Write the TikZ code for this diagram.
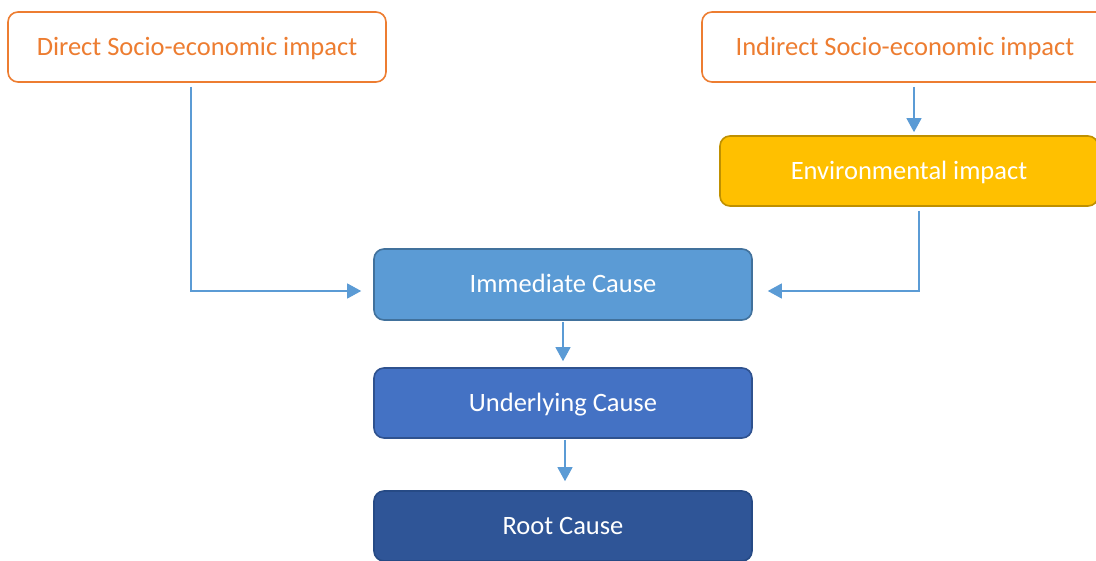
\documentclass[tikz,border=0pt]{standalone}
\usepackage{fontspec}
\setmainfont{Carlito}
\usetikzlibrary{arrows.meta,calc}

\definecolor{orangeline}{HTML}{ED7D31}
\definecolor{linkblue}{HTML}{5B9BD5}
\definecolor{goldfill}{HTML}{FFC000}
\definecolor{golddraw}{HTML}{BF9000}
\definecolor{immfill}{HTML}{5B9BD5}
\definecolor{immdraw}{HTML}{41719C}
\definecolor{undfill}{HTML}{4472C4}
\definecolor{unddraw}{HTML}{2F528F}
\definecolor{rootfill}{HTML}{2F5597}
\definecolor{rootdraw}{HTML}{264A85}

\tikzset{
  box/.style={rectangle, rounded corners=10pt, line width=1.6pt,
    minimum height=70pt, inner sep=0pt, text height=17pt, text depth=0pt,
    font=\fontsize{26.5}{30}\selectfont},
  impactbox/.style={box, draw=orangeline, fill=white, text=orangeline},
  envbox/.style={box, draw=golddraw, fill=goldfill, text=white},
  causebox/.style={box, text=white, minimum width=378pt},
  conn/.style={draw=linkblue, line width=1.2pt,
    -{Triangle[length=14pt,width=15pt]}}
}

\begin{document}
\begin{tikzpicture}[x=1pt,y=-1pt]
  \useasboundingbox (0,0) rectangle (1096,561);
  \clip (0,0) rectangle (1096,561);

  % impact boxes
  \node[impactbox, minimum width=378pt] (direct) at (197,47) {Direct Socio-economic impact};
  \node[impactbox, minimum width=406pt] (indirect) at (905,47) {Indirect Socio-economic impact};
  \node[envbox, minimum width=378pt] (env) at (909,171) {Environmental impact};

  % cause chain
  \node[causebox, fill=immfill, draw=immdraw, minimum height=71pt] (imm) at (563,284.5) {Immediate Cause};
  \node[causebox, fill=undfill, draw=unddraw] (und) at (563,403) {Underlying Cause};
  \node[causebox, fill=rootfill, draw=rootdraw] (root) at (563,526) {Root Cause};

  % connector end points
  \coordinate (dstart) at ($(direct.south)+(-6,4)$);
  \coordinate (dend) at ($(imm.west)+(-12,6.5)$);
  \coordinate (istart) at ($(indirect.south)+(9,4)$);
  \coordinate (iend) at ($(env.north)+(5,-3)$);
  \coordinate (estart) at ($(env.south)+(10,4)$);
  \coordinate (eend) at ($(imm.east)+(15,6.5)$);
  \coordinate (ustart) at ($(imm.south)+(0,1)$);
  \coordinate (uend) at ($(und.north)+(0,-6)$);
  \coordinate (rstart) at ($(und.south)+(2,1)$);
  \coordinate (rend) at ($(root.north)+(2,-9)$);

  % connectors
  \draw[conn] (dstart) |- (dend);
  \draw[conn] (istart) -- (istart |- iend);
  \draw[conn] (estart) |- (eend);
  \draw[conn] (ustart) -- (uend);
  \draw[conn] (rstart) -- (rend);
\end{tikzpicture}
\end{document}
